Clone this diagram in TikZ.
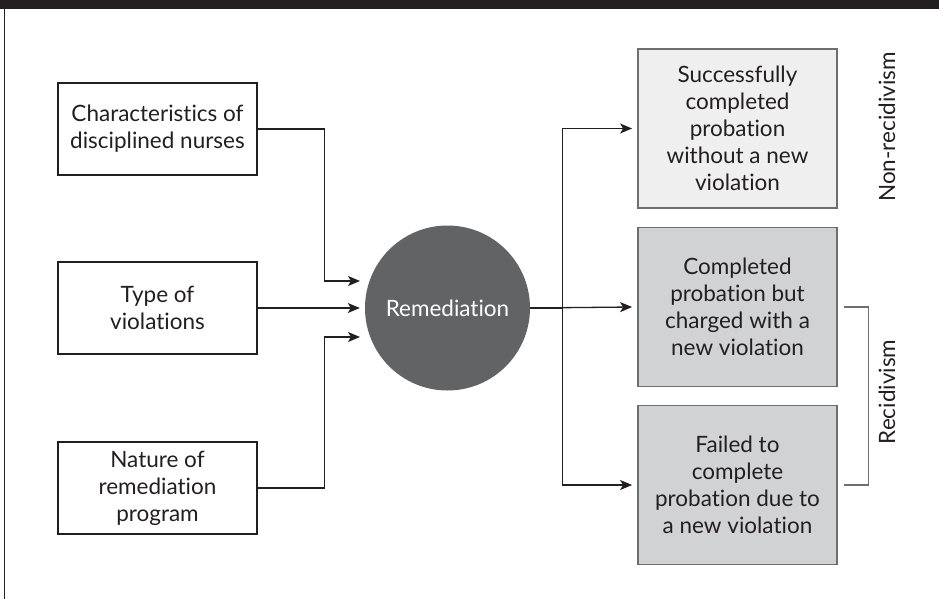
\documentclass[tikz,border=0pt]{standalone}
\usepackage{fontspec}
\setmainfont{Lato}[Ligatures=NoCommon]
\usetikzlibrary{arrows.meta,positioning,calc}
\definecolor{ink}{HTML}{231F20}
\definecolor{remgray}{HTML}{626365}
\definecolor{lightbox}{HTML}{EFEFEF}
\definecolor{midbox}{HTML}{D1D2D4}
\definecolor{boxline}{HTML}{6D6E70}
\begin{document}
\begin{tikzpicture}[x=1pt,y=-1pt,
	factor/.style={draw=ink,line width=1.6pt,minimum width=199pt,minimum height=92pt,inner sep=0pt,align=center,text=ink,font=\fontsize{22.5}{27}\selectfont},
	outcome/.style={draw=boxline,line width=1.8pt,minimum width=199pt,minimum height=159pt,inner sep=0pt,align=center,text=ink,font=\fontsize{22.5}{27}\selectfont},
	link/.style={draw=ink,line width=1.3pt,-{Stealth[length=12pt,width=10pt,inset=3pt]}},
	tag/.style={rotate=90,text=ink,font=\fontsize{22.5}{27}\selectfont}]
		\useasboundingbox (0,0) rectangle (939,599);
		\fill[ink] (0,0) rectangle (939,9);
		\draw[ink,line width=1.4pt] (4.5,9) -- (4.5,599);
		\node[factor] (traits) at (157.5,129) {Characteristics of\\disciplined nurses};
		\node[factor] (types) at (157.5,308) {Type of\\violations};
		\node[factor] (program) at (157.5,488) {Nature of\\remediation\\program};
		\node[circle,fill=remgray,minimum size=165pt,inner sep=0pt,text=white,font=\fontsize{22.5}{27}\selectfont] (rem) at (447.5,308) {Remediation};
		\node[outcome,fill=lightbox] (success) at (737.5,128.5) {Successfully\\completed\\probation\\without a new\\violation};
		\node[outcome,fill=midbox] (charged) at (737.5,307) {Completed\\probation but\\charged with a\\new violation};
		\node[outcome,fill=midbox] (failed) at (737.5,485) {Failed to\\complete\\probation due to\\a new violation};
		\coordinate (inA) at (360,281);
		\coordinate (inC) at (360,337);
		\draw[link] (traits.east) -- ++(67,0) |- (inA);
		\draw[link] (types.east) -- ([xshift=-5pt]rem.west);
		\draw[link] (program.east) -- ++(67,0) |- (inC);
		\draw[link] (rem.east) -- ([xshift=-5pt]charged.west);
		\draw[link] (rem.east) -- ++(32,0) |- ([xshift=-5pt]success.west);
		\draw[link] (rem.east) -- ++(32,0) |- ([xshift=-5pt]failed.west);
		\draw[boxline,line width=1.1pt] ([xshift=6pt]charged.east) -- ++(25,0) |- ([xshift=6pt]failed.east);
		\node[tag] (nonrec) at (887,127) {Non-recidivism};
		\node[tag] (rec) at (887,392) {Recidivism};
\end{tikzpicture}
\end{document}
